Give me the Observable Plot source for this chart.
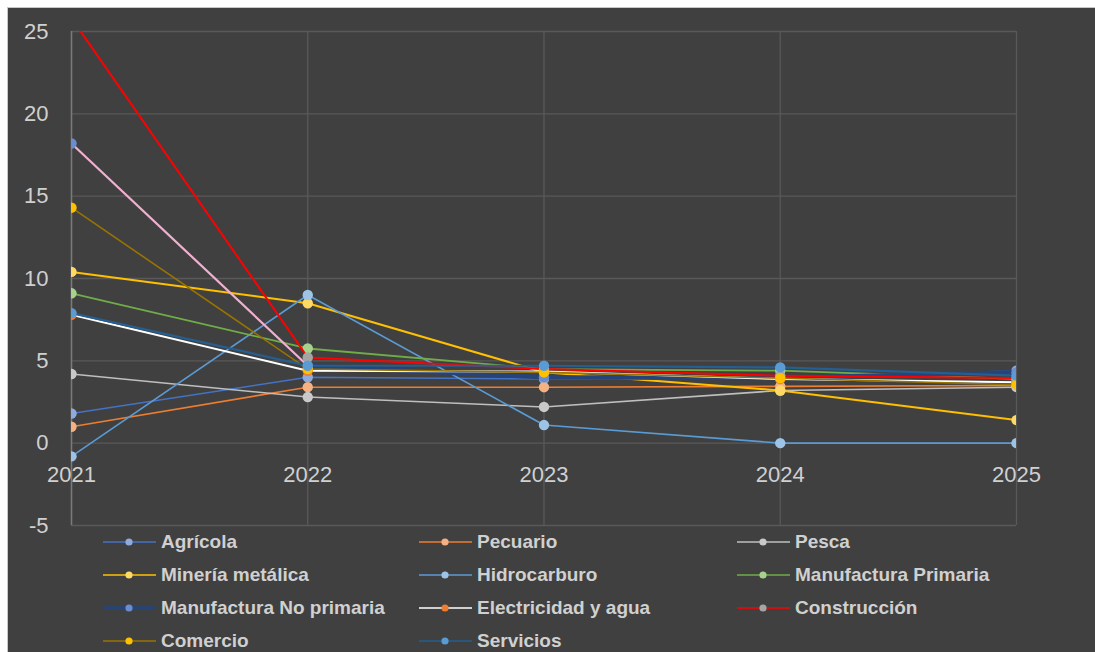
<!DOCTYPE html>
<html>
<head>
<meta charset="utf-8">
<script src="https://cdn.jsdelivr.net/npm/d3@7"></script>
<script src="https://cdn.jsdelivr.net/npm/@observablehq/plot@0.6"></script>
<style>
  body { margin: 0; background: #ffffff; width: 1095px; height: 652px; overflow: hidden; }
  #bg { position: absolute; left: 7px; top: 7px; width: 1088px; height: 645px; background: #404040; border-top: 1px solid #c8c8c8; border-left: 1px solid #c8c8c8; }
  #chart { position: absolute; left: 0; top: 0; }
  #legend { position: absolute; left: 0; top: 0; width: 1095px; height: 652px; pointer-events: none; }
  .item { position: absolute; display: flex; align-items: center; height: 24px; font-family: "Liberation Sans", Arial, sans-serif; font-weight: bold; font-size: 19px; color: #d0d0d0; white-space: nowrap; }
  .item svg { margin-right: 5px; }
</style>
</head>
<body>
<div id="bg"></div>
<div id="chart"></div>
<div id="legend"></div>
<script>
// ---- Data ----
const years = [2021, 2022, 2023, 2024, 2025];
const yTicks = [-5, 0, 5, 10, 15, 20, 25];

const seriesNames = [
  "Agrícola", "Pecuario", "Pesca",
  "Minería metálica", "Hidrocarburo", "Manufactura Primaria",
  "Manufactura No primaria", "Electricidad y agua", "Construcción",
  "Comercio", "Servicios"
];

const agricola        = [1.8, 4.0, 3.9, 3.9, 4.4];
const pecuario        = [1.0, 3.4, 3.4, 3.45, 3.5];
const pesca           = [4.2, 2.8, 2.2, 3.2, 3.4];
const mineria         = [10.4, 8.5, 4.3, 3.2, 1.4];
const hidrocarburo    = [-0.8, 9.0, 1.1, 0.0, 0.0];
const manufPrimaria   = [9.1, 5.75, 4.5, 4.4, 3.9];
const manufNoPrimaria = [18.2, 4.7, 4.0, 3.95, 4.3];
const electricidad    = [7.8, 4.4, 4.35, 3.9, 3.7];
const construccion    = [25.8, 5.2, 4.5, 4.1, 3.95];
const comercio        = [14.3, 4.5, 4.3, 3.95, 3.55];
const servicios       = [7.9, 4.7, 4.7, 4.6, 4.1];

const seriesValues = [agricola, pecuario, pesca, mineria, hidrocarburo, manufPrimaria,
  manufNoPrimaria, electricidad, construccion, comercio, servicios];

const lineColors = ["#4472C4", "#ED7D31", "#BFBFBF", "#FFC000", "#5B9BD5", "#70AD47",
  "#264478", "#FFFFFF", "#FF0000", "#997300", "#255E91"];
const markerColors = ["#8FAADC", "#F4B183", "#C9C9C9", "#FFD966", "#9DC3E6", "#A9D18E",
  "#698ED0", "#ED7D31", "#A5A5A5", "#FFC000", "#5B9BD5"];
const lineWidths = [1.6, 1.6, 1.6, 2, 1.6, 1.8, 4.5, 2, 2, 1.6, 2.2];
// first segment of Manufactura No primaria is drawn in pink in the original
const firstSegmentColor = {"Manufactura No primaria": "#F2B0D0"};

// ---- Build table ----
const rows = [];
seriesNames.forEach((name, i) => {
  years.forEach((yr, j) => rows.push({series: name, idx: i, year: yr, value: seriesValues[i][j]}));
});

const marks = [
  Plot.gridY(yTicks, {stroke: "#595959", strokeOpacity: 1, strokeWidth: 1.3}),
  Plot.gridX(years, {stroke: "#595959", strokeOpacity: 1, strokeWidth: 1.3}),
  Plot.ruleX([2021], {stroke: "#7a7a7a", strokeWidth: 1.5}),
  Plot.axisY({ticks: yTicks, tickSize: 0, tickPadding: 23, tickFormat: d => String(d), fontSize: 22, fill: "#d0d0d0", label: null}),
  Plot.text(years, {x: d => d, y: 0, dy: 32, text: d => String(d), fontSize: 22, fill: "#d0d0d0"})
];

seriesNames.forEach((name, i) => {
  const data = rows.filter(r => r.series === name);
  if (firstSegmentColor[name]) {
    marks.push(Plot.line(data.filter(r => r.year >= 2022), {x: "year", y: "value", stroke: lineColors[i], strokeWidth: lineWidths[i], clip: true}));
    marks.push(Plot.line(data.filter(r => r.year <= 2022), {x: "year", y: "value", stroke: firstSegmentColor[name], strokeWidth: 2.2, clip: true}));
  } else {
    marks.push(Plot.line(data, {x: "year", y: "value", stroke: lineColors[i], strokeWidth: lineWidths[i], clip: true}));
  }
  marks.push(Plot.dot(data, {x: "year", y: "value", r: 5.2, fill: markerColors[i], stroke: "none", clip: true}));
});

const chart = Plot.plot({
  width: 1095,
  height: 540,
  marginLeft: 71,
  marginRight: 79,
  marginTop: 31,
  marginBottom: 15,
  x: {domain: [2021, 2025], axis: null},
  y: {domain: [-5, 25], axis: null},
  style: {background: "transparent", color: "#d0d0d0", fontFamily: "'Liberation Sans', Arial, sans-serif", fontSize: "22px"},
  marks
});
document.getElementById("chart").appendChild(chart);

// ---- Legend ----
const legend = document.getElementById("legend");
const colX = [103, 419, 737];
const rowY = [542, 575, 608, 641];
seriesNames.forEach((name, i) => {
  const c = i % 3, r = Math.floor(i / 3);
  const div = document.createElement("div");
  div.className = "item";
  div.style.left = colX[c] + "px";
  div.style.top = (rowY[r] - 12) + "px";
  const w = lineWidths[i] > 3 ? 3.5 : 1.5;
  div.innerHTML = `<svg width="53" height="12"><line x1="0" y1="6" x2="53" y2="6" stroke="${lineColors[i]}" stroke-width="${w}"/><circle cx="26" cy="6" r="3.6" fill="${markerColors[i]}"/></svg><span>${name}</span>`;
  legend.appendChild(div);
});
</script>
</body>
</html>
